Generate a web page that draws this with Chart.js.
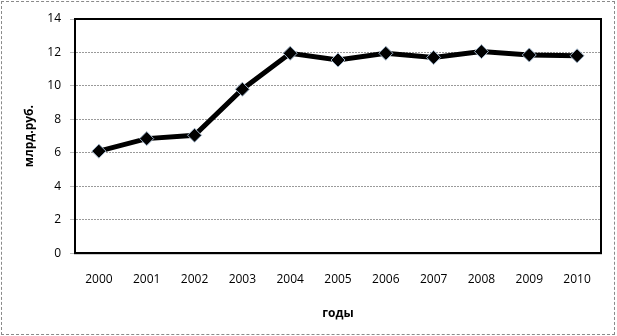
<!DOCTYPE html>
<html lang="ru">
<head>
  <meta charset="UTF-8">
  <title>млрд.руб. по годам</title>
  <script src="https://cdn.jsdelivr.net/npm/chart.js"></script>
  <style>
    body { margin: 0; background: #ffffff; }
    .wrap { position: relative; width: 617px; height: 336px; }
    .frame {
      position: absolute; left: 1px; top: 1px; width: 612px; height: 332px;
      border: 1px dashed #8a8a8a;
    }
    canvas { position: absolute; left: 0; top: 0; }
  </style>
</head>
<body>
  <div class="wrap">
    <div class="frame"></div>
    <canvas id="lineChart" width="617" height="336"></canvas>
  </div>

  <script>
    const years = ['2000', '2001', '2002', '2003', '2004', '2005', '2006', '2007', '2008', '2009', '2010'];
    const values = [6.1, 6.85, 7.05, 9.8, 11.95, 11.55, 11.95, 11.7, 12.05, 11.85, 11.8];
    const yTitle = 'млрд.руб.';
    const xTitle = 'годы';

    // black frame round the plot area
    const plotFrame = {
      id: 'plotFrame',
      afterDraw(chart) {
        const a = chart.chartArea;
        const ctx = chart.ctx;
        ctx.save();
        ctx.strokeStyle = '#000';
        ctx.lineWidth = 2;
        ctx.strokeRect(a.left, a.top, a.right - a.left, a.bottom - a.top);
        ctx.restore();
      }
    };

    const font = { family: 'Open Sans, Noto Sans, sans-serif', size: 12 };

    new Chart(document.getElementById('lineChart'), {
      type: 'line',
      data: {
        labels: years,
        datasets: [{
          data: values,
          borderColor: '#000',
          borderWidth: 5,
          pointStyle: 'rectRot',
          pointRadius: 7,
          pointBackgroundColor: '#000',
          pointBorderColor: '#9fb3c8',
          pointBorderWidth: 1,
          tension: 0
        }]
      },
      options: {
        responsive: false,
        animation: false,
        layout: { padding: { top: 19, right: 16, bottom: 11, left: 0 } },
        plugins: { legend: { display: false }, tooltip: { enabled: false } },
        scales: {
          x: {
            offset: true,
            grid: { display: true, drawOnChartArea: false, drawTicks: false, color: '#bbb' },
            border: { color: '#000', width: 2 },
            ticks: { color: '#000', font: font, padding: 19 },
            title: { display: true, text: xTitle, color: '#000', font: { family: font.family, size: 12, weight: 'bold' }, padding: { top: 1 } }
          },
          y: {
            min: 0,
            max: 14,
            afterFit(scale) { scale.width = 75; },
            grid: { color: '#9a9a9a', tickLength: 5, tickColor: '#bbb' },
            border: { color: '#000', width: 2, dash: [2, 1] },
            ticks: { stepSize: 2, color: '#000', font: font, padding: 9 },
            title: { display: true, text: yTitle, color: '#000', font: { family: font.family, size: 12, weight: 'bold' }, padding: { top: 22 } }
          }
        }
      },
      plugins: [plotFrame]
    });
  </script>
</body>
</html>
